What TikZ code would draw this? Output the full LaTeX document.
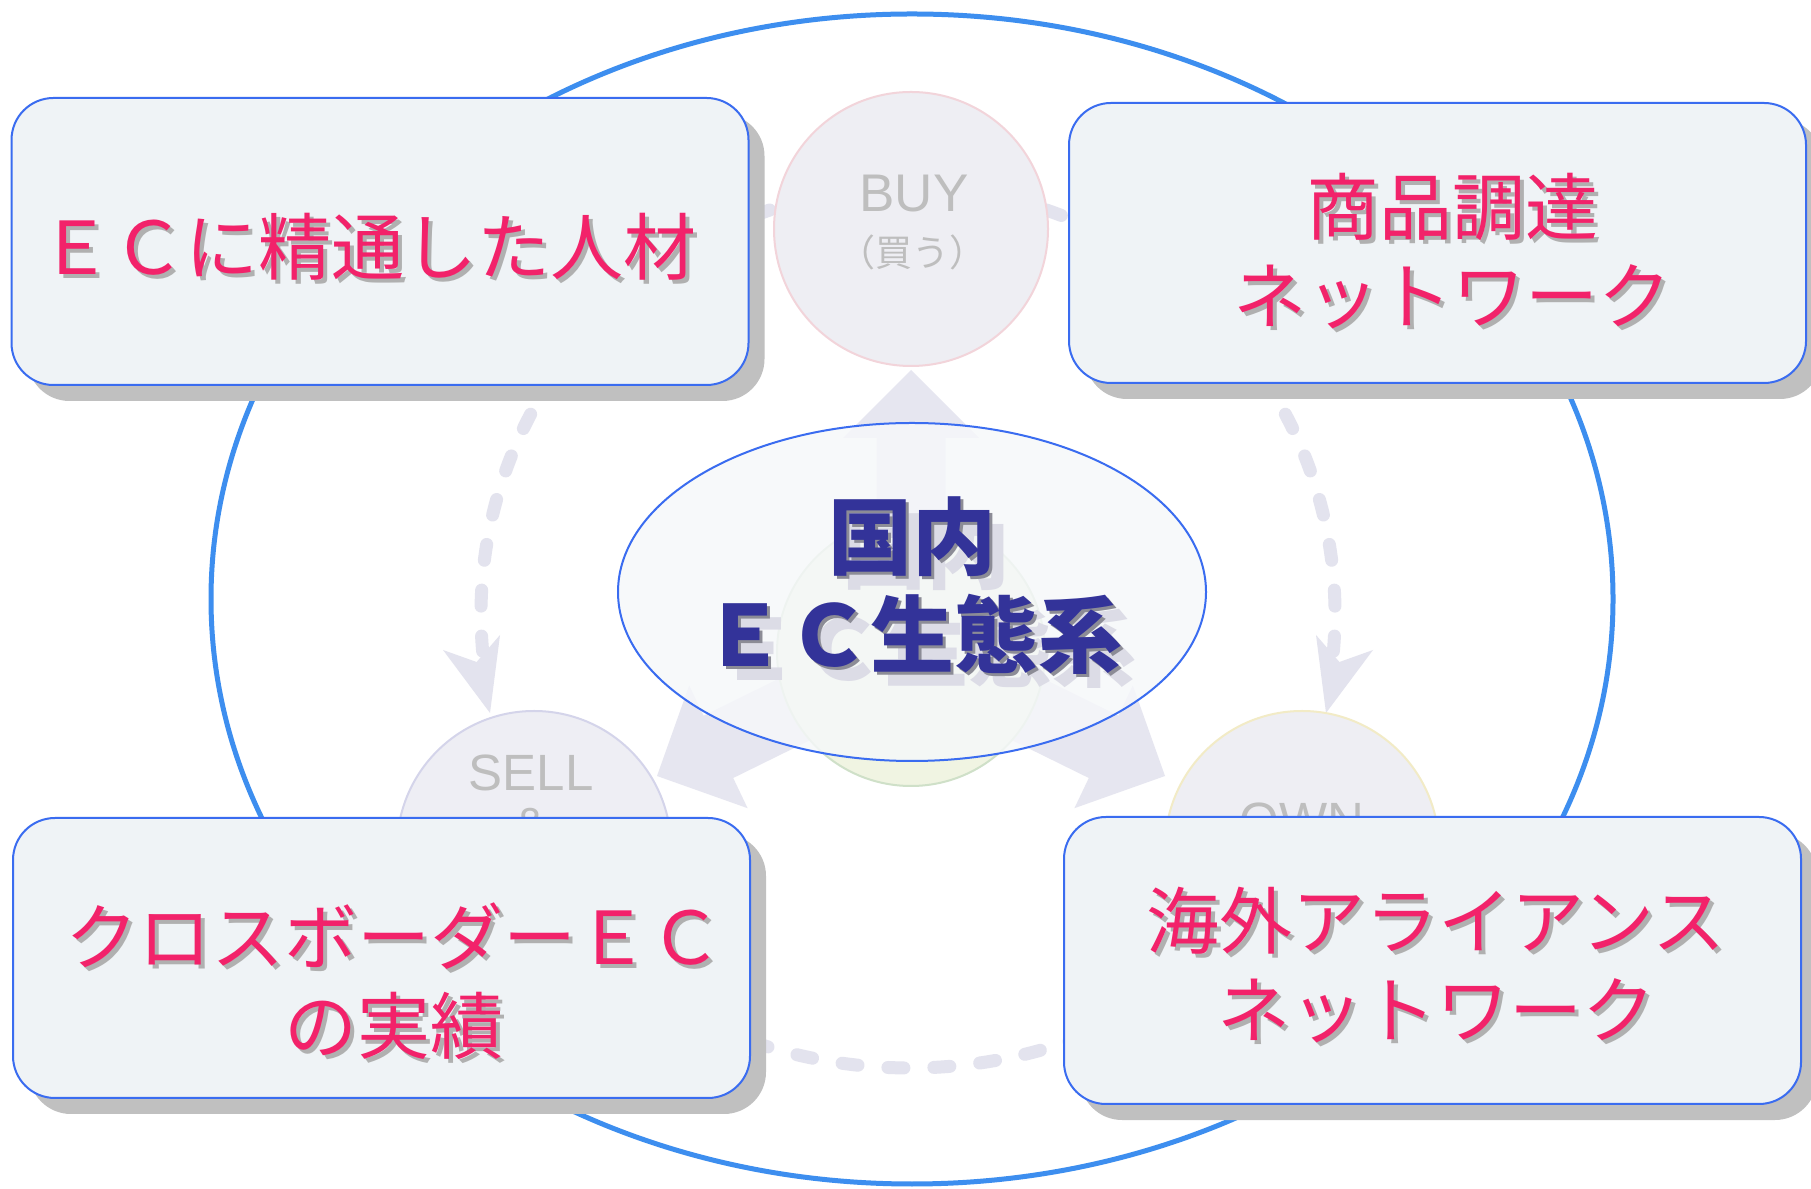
\documentclass[tikz,border=0pt]{standalone}
\usepackage{fontspec}
\setmainfont{Liberation Sans}
\newfontfamily\cjk{Noto Sans CJK JP}
\usetikzlibrary{calc,shapes.geometric,shadows}
\definecolor{bigblue}{HTML}{3D8EEF}
\definecolor{boxblue}{HTML}{3A6CF0}
\definecolor{boxfill}{HTML}{EFF3F6}
\definecolor{shadowgray}{HTML}{C0C0C0}
\definecolor{pinkc}{HTML}{F2226A}
\definecolor{txtshadow}{HTML}{B0B0B0}
\definecolor{navy}{HTML}{333399}
\definecolor{lav}{HTML}{E6E6F0}
\definecolor{dashc}{HTML}{E3E3EE}
\definecolor{ghost}{HTML}{DCDCE6}
\definecolor{graytxt}{HTML}{BEBEBE}
\begin{document}
\begin{tikzpicture}[x=1pt,y=1pt,
  box/.style={draw=boxblue, line width=2pt, fill=boxfill, rounded corners=42pt,
    minimum width=737pt, minimum height=282pt, inner sep=0pt,
    drop shadow={shadow xshift=16pt, shadow yshift=-16pt, fill=shadowgray, opacity=1}},
  pinktxt/.style={text=pinkc, font=\cjk\fontsize{73}{89}\selectfont, align=center, inner sep=0pt},
  pinkshadow/.style={pinktxt, text=txtshadow},
  phase/.style={circle, minimum size=274pt, inner sep=0pt, line width=2pt},
  phasetxt/.style={text=graytxt, font=\fontsize{51}{56}\selectfont, inner sep=0pt},
  dashline/.style={draw=dashc, line width=13pt, line cap=round, dash pattern=on 16pt off 30pt},
  coretxt/.style={font=\cjk\bfseries\fontsize{84}{98}\selectfont, align=center, inner sep=0pt}
]
\useasboundingbox (0,0) rectangle (1811,1188);
\fill[white] (0,0) rectangle (1811,1188);

% outer ring
\draw[bigblue, line width=5pt] (912,589) ellipse [x radius=701pt, y radius=585pt];

% dashed cycle arcs
\draw[dashline] (908,574) ++(108.9:427pt) arc[start angle=108.9, end angle=185, radius=427pt];
\draw[dashline] (908,574) ++(71.1:427pt) arc[start angle=71.1, end angle=-5, radius=427pt];
\draw[dashline] (910,608) ++(235:488pt) arc[start angle=235, end angle=305, radius=488pt];
\fill[dashc] (490,475) -- (443,538) -- (476.6,526) -- (500,553) -- cycle;
\fill[dashc] (1326,475) -- (1373,538) -- (1339.4,526) -- (1316,553) -- cycle;

% phase circles
\node[phase, draw={rgb,255:red,242;green,212;blue,218}, fill={rgb,255:red,238;green,238;blue,243}] (buy) at (911,959) {};
\node[phase, draw={rgb,255:red,212;green,212;blue,234}, fill={rgb,255:red,238;green,238;blue,244}] (sell) at (534,340) {};
\node[phase, draw={rgb,255:red,242;green,235;blue,198}, fill={rgb,255:red,238;green,238;blue,243}] (own) at (1302,340) {};
\node[phasetxt, font=\fontsize{53}{58}\selectfont] (buyt) at (914,994) {BUY};
\node[phasetxt, font=\cjk\fontsize{37}{40}\selectfont] (buyj) at (912,936) {（買う）};
\node[phasetxt] (sellt) at (531,415) {SELL};
\node[phasetxt] (sella) at (531,362) {\&};
\node[phasetxt] (ownt) at (1302,367) {OWN};

% fat three-way arrows
\fill[lav] (876.5,536) -- (876.5,750) -- (843,750) -- (911,818) -- (979,750) -- (945.5,750) -- (945.5,536) -- cycle;
\fill[lav] (896.2,567.2) -- (703.6,472.3) -- (689.2,502.6) -- (657,412) -- (747.6,379.8) -- (733.2,410) -- (925.8,504.8) -- cycle;
\fill[lav] (925.8,567.2) -- (1118.4,472.3) -- (1132.8,502.6) -- (1165,412) -- (1074.4,379.8) -- (1088.8,410) -- (896.2,504.8) -- cycle;

% inner green circle
\node[circle, minimum size=268pt, inner sep=0pt, line width=2pt,
  draw={rgb,255:red,207;green,224;blue,200}, fill={rgb,255:red,240;green,244;blue,226}] (green) at (911,536) {};

% core ellipse
\node[ellipse, minimum width=588pt, minimum height=338pt, inner sep=0pt, draw=boxblue, line width=2pt,
  fill={rgb,255:red,246;green,248;blue,250}, fill opacity=0.82] (core) at (912,596) {};
\node[coretxt, text=ghost] (coreg) at (926,588) {国内\\ＥＣ生態系};
\node[coretxt, text={rgb,255:red,140;green,140;blue,150}] (cores) at (915,599) {国内\\ＥＣ生態系};
\node[coretxt, text=navy] (coret) at (912,602) {国内\\ＥＣ生態系};

% boxes
\node[box, minimum height=287pt] (tl) at (380,946.5) {};
\node[box, minimum height=280pt] (tr) at (1437.5,945) {};
\node[box, minimum height=280pt] (bl) at (381.5,230) {};
\node[box, minimum height=287pt] (br) at (1432.5,227.5) {};

\node[pinkshadow] (tls) at (372,937) {ＥＣに精通した人材};
\node[pinktxt] (tlt) at (368,941) {ＥＣに精通した人材};
\node[pinkshadow] (trs) at (1456,933) {商品調達\\ネットワーク};
\node[pinktxt] (trt) at (1452,937) {商品調達\\ネットワーク};
\node[pinkshadow] (bls) at (398,203) {クロスボーダーＥＣ\\の実績};
\node[pinktxt] (blt) at (394,207) {クロスボーダーＥＣ\\の実績};
\node[pinkshadow] (brs) at (1440,219) {海外アライアンス\\ネットワーク};
\node[pinktxt] (brt) at (1436,223) {海外アライアンス\\ネットワーク};
\end{tikzpicture}
\end{document}
